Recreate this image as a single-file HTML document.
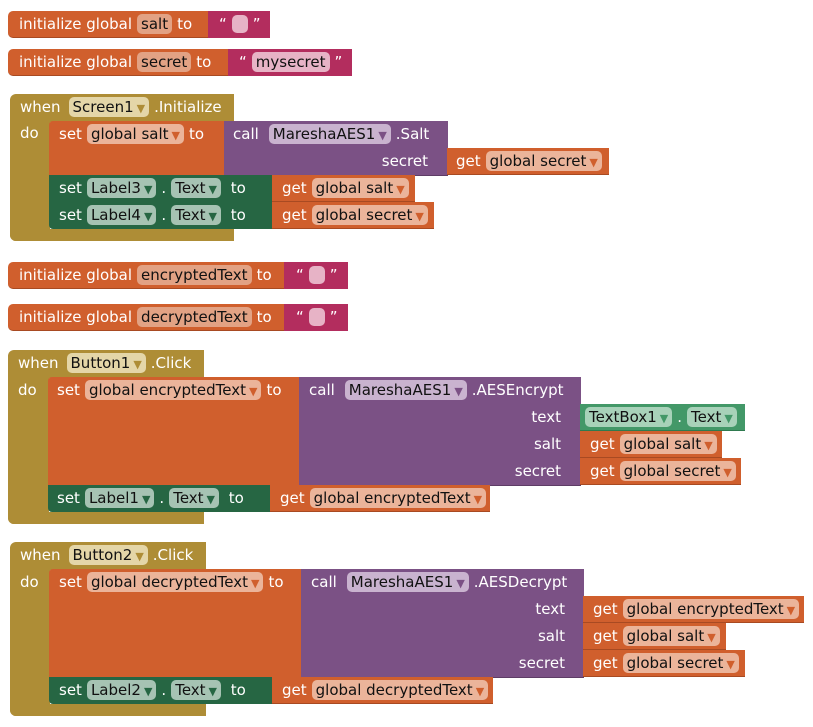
<!DOCTYPE html>
<html><head><meta charset="utf-8"><style>
body{margin:0;width:813px;height:727px;background:#fff;position:relative;overflow:hidden;font-family:"DejaVu Sans","Liberation Sans",sans-serif;font-size:15px;color:#fff}
.b{position:absolute;box-sizing:border-box}
.o{background:#d05f2d;border-bottom:1px solid #a84a22}
.m{background:#b32d5e}
.g{background:#ae8d36}
.p{background:#7b5185;border-bottom:1px solid #5e3d66}
.dg{background:#266643}
.tg{background:#439868}
.row{position:absolute;display:flex;align-items:center;height:26px;white-space:nowrap}
.row>*{margin-right:5px}
.f{display:inline-block;height:20px;line-height:20px;padding:0 4px;border-radius:5px;color:#111}
.fo{background:#ebb49a}.fg{background:#a6c3b3}.fp{background:#c9b3cf}.fy{background:#e4d6a8}.fm{background:#e7b3c6;width:16px;height:18px;padding:0}
.fo2{background:#e2a284}
.a{font-size:11px;margin-left:3px}
.ao{color:#d05f2d}.ag{color:#266643}.ap{color:#7b5185}.ay{color:#ae8d36}
.rt{position:absolute;text-align:right;height:26px;line-height:26px}
</style></head><body>

<div class="b o" style="left:8px;top:11px;width:202px;height:27px;border-radius:5px 0 0 5px"></div>
<div class="b m" style="left:208px;top:11px;width:62px;height:27px"></div>
<div class="row" style="left:19px;top:11px"><span>initialize global</span><span class="f fo2">salt</span><span>to</span></div>
<div class="row" style="left:219px;top:11px"><span>“</span><span class="f fm"></span><span>”</span></div>

<div class="b o" style="left:8px;top:49px;width:222px;height:27px;border-radius:5px 0 0 5px"></div>
<div class="b m" style="left:228px;top:49px;width:124px;height:27px"></div>
<div class="row" style="left:19px;top:49px"><span>initialize global</span><span class="f fo2">secret</span><span>to</span></div>
<div class="row" style="left:239px;top:49px"><span>“</span><span class="f" style="background:#e7b3c6">mysecret</span><span>”</span></div>

<div class="b g" style="left:10px;top:94px;width:224px;height:28px;border-radius:6px 0 0 0"></div>
<div class="b g" style="left:10px;top:120px;width:40px;height:121px;border-radius:0 0 0 6px"></div>
<div class="b g" style="left:10px;top:229px;width:224px;height:12px;border-radius:0 0 0 6px"></div>
<div class="row" style="left:20px;top:94px"><span style="margin-right:8px">when</span><span class="f fy">Screen1<span class="a ay">▼</span></span><span>.Initialize</span></div>
<div class="row" style="left:20px;top:120px">do</div>
<div class="b o" style="left:49px;top:121px;width:176px;height:55px;border-radius:4px 0 0 0"></div>
<div class="b p" style="left:224px;top:121px;width:224px;height:55px"></div>
<div class="row" style="left:59px;top:121px"><span>set</span><span class="f fo">global salt<span class="a ao">▼</span></span><span>to</span></div>
<div class="row" style="left:233px;top:121px"><span style="margin-right:10px">call</span><span class="f fp">MareshaAES1<span class="a ap">▼</span></span><span>.Salt</span></div>
<div class="rt" style="left:330px;width:98px;top:148px">secret</div>
<div class="b o" style="left:447px;top:148px;width:162px;height:27px"></div>
<div class="row" style="left:456px;top:148px"><span>get</span><span class="f fo">global secret<span class="a ao">▼</span></span></div>
<div class="b dg" style="left:49px;top:175px;width:224px;height:27px"></div>
<div class="b o" style="left:272px;top:175px;width:143px;height:27px"></div>
<div class="row" style="left:59px;top:175px"><span>set</span><span class="f fg">Label3<span class="a ag">▼</span></span><span>.</span><span class="f fg">Text<span class="a ag">▼</span></span><span>&nbsp;to</span></div>
<div class="row" style="left:282px;top:175px"><span>get</span><span class="f fo">global salt<span class="a ao">▼</span></span></div>
<div class="b dg" style="left:49px;top:202px;width:224px;height:27px;border-radius:0 0 0 4px"></div>
<div class="b o" style="left:272px;top:202px;width:162px;height:27px"></div>
<div class="row" style="left:59px;top:202px"><span>set</span><span class="f fg">Label4<span class="a ag">▼</span></span><span>.</span><span class="f fg">Text<span class="a ag">▼</span></span><span>&nbsp;to</span></div>
<div class="row" style="left:282px;top:202px"><span>get</span><span class="f fo">global secret<span class="a ao">▼</span></span></div>

<div class="b o" style="left:8px;top:262px;width:278px;height:27px;border-radius:5px 0 0 5px"></div>
<div class="b m" style="left:284px;top:262px;width:64px;height:27px"></div>
<div class="row" style="left:19px;top:262px"><span>initialize global</span><span class="f fo2">encryptedText</span><span>to</span></div>
<div class="row" style="left:296px;top:262px"><span>“</span><span class="f fm"></span><span>”</span></div>

<div class="b o" style="left:8px;top:304px;width:278px;height:27px;border-radius:5px 0 0 5px"></div>
<div class="b m" style="left:284px;top:304px;width:64px;height:27px"></div>
<div class="row" style="left:19px;top:304px"><span>initialize global</span><span class="f fo2">decryptedText</span><span>to</span></div>
<div class="row" style="left:296px;top:304px"><span>“</span><span class="f fm"></span><span>”</span></div>

<div class="b g" style="left:8px;top:350px;width:196px;height:28px;border-radius:6px 0 0 0"></div>
<div class="b g" style="left:8px;top:376px;width:41px;height:148px;border-radius:0 0 0 6px"></div>
<div class="b g" style="left:8px;top:512px;width:196px;height:12px;border-radius:0 0 0 6px"></div>
<div class="row" style="left:18px;top:350px"><span style="margin-right:8px">when</span><span class="f fy">Button1<span class="a ay">▼</span></span><span>.Click</span></div>
<div class="row" style="left:18px;top:377px">do</div>
<div class="b o" style="left:48px;top:377px;width:252px;height:109px;border-radius:4px 0 0 0"></div>
<div class="b p" style="left:299px;top:377px;width:282px;height:109px"></div>
<div class="row" style="left:57px;top:377px"><span>set</span><span class="f fo">global encryptedText<span class="a ao">▼</span></span><span>to</span></div>
<div class="row" style="left:309px;top:377px"><span style="margin-right:10px">call</span><span class="f fp">MareshaAES1<span class="a ap">▼</span></span><span>.AESEncrypt</span></div>
<div class="rt" style="left:460px;width:101px;top:404px">text</div>
<div class="rt" style="left:460px;width:101px;top:431px">salt</div>
<div class="rt" style="left:460px;width:101px;top:458px">secret</div>
<div class="b tg" style="left:580px;top:404px;width:165px;height:27px;border-bottom:1px solid #2f7a4f"></div>
<div class="row" style="left:585px;top:404px"><span class="f" style="background:#a8d2b9">TextBox1<span class="a" style="color:#439868">▼</span></span><span>.</span><span class="f" style="background:#a8d2b9">Text<span class="a" style="color:#439868">▼</span></span></div>
<div class="b o" style="left:580px;top:431px;width:142px;height:27px"></div>
<div class="row" style="left:590px;top:431px"><span>get</span><span class="f fo">global salt<span class="a ao">▼</span></span></div>
<div class="b o" style="left:580px;top:458px;width:161px;height:27px"></div>
<div class="row" style="left:590px;top:458px"><span>get</span><span class="f fo">global secret<span class="a ao">▼</span></span></div>
<div class="b dg" style="left:48px;top:485px;width:223px;height:27px;border-radius:0 0 0 4px"></div>
<div class="b o" style="left:270px;top:485px;width:220px;height:27px"></div>
<div class="row" style="left:57px;top:485px"><span>set</span><span class="f fg">Label1<span class="a ag">▼</span></span><span>.</span><span class="f fg">Text<span class="a ag">▼</span></span><span>&nbsp;to</span></div>
<div class="row" style="left:280px;top:485px"><span>get</span><span class="f fo">global encryptedText<span class="a ao">▼</span></span></div>

<div class="b g" style="left:10px;top:542px;width:196px;height:28px;border-radius:6px 0 0 0"></div>
<div class="b g" style="left:10px;top:568px;width:40px;height:148px;border-radius:0 0 0 6px"></div>
<div class="b g" style="left:10px;top:704px;width:196px;height:12px;border-radius:0 0 0 6px"></div>
<div class="row" style="left:20px;top:542px"><span style="margin-right:8px">when</span><span class="f fy">Button2<span class="a ay">▼</span></span><span>.Click</span></div>
<div class="row" style="left:20px;top:569px">do</div>
<div class="b o" style="left:49px;top:569px;width:253px;height:109px;border-radius:4px 0 0 0"></div>
<div class="b p" style="left:301px;top:569px;width:283px;height:109px"></div>
<div class="row" style="left:59px;top:569px"><span>set</span><span class="f fo">global decryptedText<span class="a ao">▼</span></span><span>to</span></div>
<div class="row" style="left:311px;top:569px"><span style="margin-right:10px">call</span><span class="f fp">MareshaAES1<span class="a ap">▼</span></span><span>.AESDecrypt</span></div>
<div class="rt" style="left:463px;width:102px;top:596px">text</div>
<div class="rt" style="left:463px;width:102px;top:623px">salt</div>
<div class="rt" style="left:463px;width:102px;top:650px">secret</div>
<div class="b o" style="left:583px;top:596px;width:221px;height:27px"></div>
<div class="row" style="left:593px;top:596px"><span>get</span><span class="f fo">global encryptedText<span class="a ao">▼</span></span></div>
<div class="b o" style="left:583px;top:623px;width:143px;height:27px"></div>
<div class="row" style="left:593px;top:623px"><span>get</span><span class="f fo">global salt<span class="a ao">▼</span></span></div>
<div class="b o" style="left:583px;top:650px;width:162px;height:27px"></div>
<div class="row" style="left:593px;top:650px"><span>get</span><span class="f fo">global secret<span class="a ao">▼</span></span></div>
<div class="b dg" style="left:49px;top:677px;width:224px;height:27px;border-radius:0 0 0 4px"></div>
<div class="b o" style="left:272px;top:677px;width:221px;height:27px"></div>
<div class="row" style="left:59px;top:677px"><span>set</span><span class="f fg">Label2<span class="a ag">▼</span></span><span>.</span><span class="f fg">Text<span class="a ag">▼</span></span><span>&nbsp;to</span></div>
<div class="row" style="left:282px;top:677px"><span>get</span><span class="f fo">global decryptedText<span class="a ao">▼</span></span></div>

</body></html>
